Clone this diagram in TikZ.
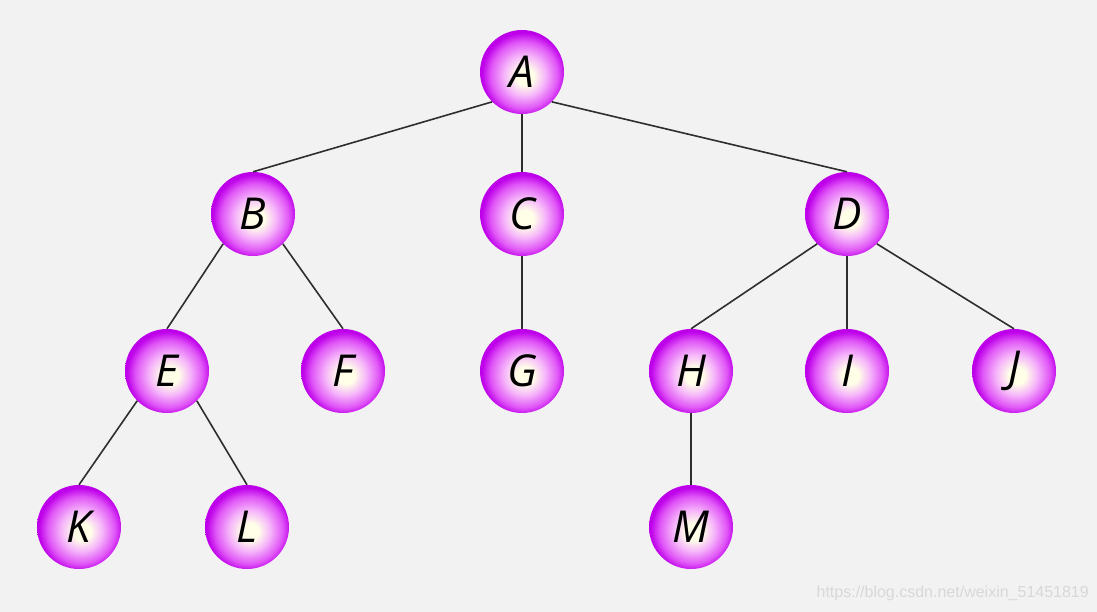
\documentclass[tikz,border=0pt]{standalone}
\usepackage{fontspec}
\setmainfont{Open Sans}
\definecolor{bg}{HTML}{F2F2F2}
\definecolor{ballc}{HTML}{FFFFE8}
\definecolor{ballm}{HTML}{F6B8FA}
\definecolor{ballo}{HTML}{E056F7}
\definecolor{balle}{HTML}{BE00EA}
\definecolor{edgec}{HTML}{2E2E2E}
\definecolor{wm}{HTML}{D8D8D8}
\pgfdeclareradialshading{ball}{\pgfpoint{2bp}{-3bp}}{color(0bp)=(ballc); color(5bp)=(ballc); color(12bp)=(ballm); color(20bp)=(ballo); color(25bp)=(balle); color(50bp)=(balle)}
\tikzset{
  tnode/.style={circle, minimum size=84pt, inner sep=0pt, shading=ball, font=\itshape\fontsize{44}{44}\selectfont, text=black},
  tedge/.style={draw=edgec, line width=1.6pt}
}
\begin{document}
\begin{tikzpicture}[x=1pt,y=-1pt]
\fill[bg] (0,0) rectangle (1097,612);
\useasboundingbox (0,0) rectangle (1097,612);
\node[tnode] (A) at (522,72) {A};
\node[tnode] (B) at (253,214) {B};
\node[tnode] (C) at (522,214) {C};
\node[tnode] (D) at (847,214) {D};
\node[tnode] (E) at (167,371) {E};
\node[tnode] (F) at (343,371) {F};
\node[tnode] (G) at (522,371) {G};
\node[tnode] (H) at (691,371) {H};
\node[tnode] (I) at (847,371) {I};
\node[tnode] (J) at (1014,371) {J};
\node[tnode] (K) at (79,527) {K};
\node[tnode] (L) at (247,527) {L};
\node[tnode] (M) at (691,527) {M};
\draw[tedge] (A.south west) -- (B.north);
\draw[tedge] (A.south) -- (C.north);
\draw[tedge] (A.south east) -- (D.north);
\draw[tedge] (B.south west) -- (E.north);
\draw[tedge] (B.south east) -- (F.north);
\draw[tedge] (C.south) -- (G.north);
\draw[tedge] (D.south west) -- (H.north);
\draw[tedge] (D.south) -- (I.north);
\draw[tedge] (D.south east) -- (J.north);
\draw[tedge] (E.south west) -- (K.north);
\draw[tedge] (E.south east) -- (L.north);
\draw[tedge] (H.south) -- (M.north);
\node[anchor=east, inner sep=0pt, text=wm, font={\fontspec{Liberation Sans}\fontsize{16}{16}\selectfont}] (wmk) at (1089,593) {https://blog.csdn.net/weixin\_51451819};
\end{tikzpicture}
\end{document}
